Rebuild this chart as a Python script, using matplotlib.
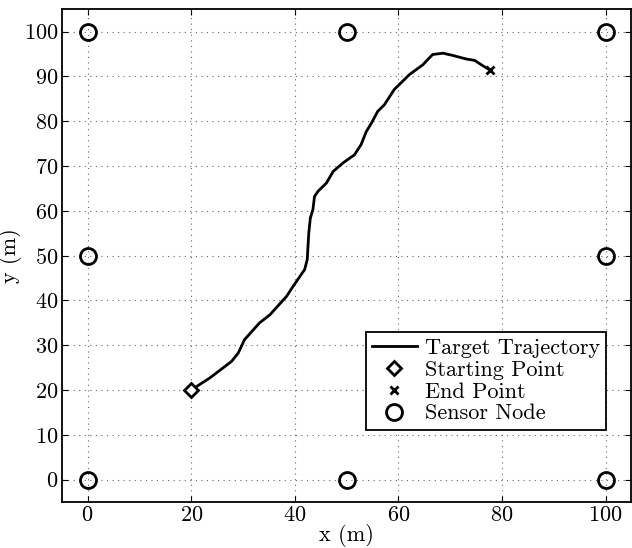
import matplotlib
matplotlib.use("Agg")
import matplotlib.pyplot as plt

plt.rcParams['font.family'] = 'serif'
plt.rcParams['font.serif'] = ['cmr10']
plt.rcParams['mathtext.fontset'] = 'cm'
plt.rcParams['axes.formatter.use_mathtext'] = True

traj_x = [20.0, 23.6, 27.8, 29.1, 30.3, 33.2, 35.2, 38.4, 39.7, 41.9, 42.4, 42.7, 43.0, 43.5,
          43.8, 44.5, 46.1, 47.4, 49.3, 51.5, 52.8, 53.8, 54.8, 56.0, 57.3, 59.2, 62.1,
          64.7, 66.6, 68.6, 70.5, 73.1, 74.7, 76.3, 77.6]
traj_y = [20.0, 22.7, 26.4, 28.3, 31.25, 35.0, 36.8, 40.9, 43.2, 46.9, 49.1, 55.1, 58.4, 60.3,
          63.2, 64.4, 66.2, 68.8, 70.7, 72.5, 74.8, 77.7, 79.6, 82.2, 83.7, 87.1, 90.4,
          92.6, 94.9, 95.2, 94.7, 93.9, 93.6, 92.4, 91.5]
start_pt = (20.0, 20.0)
end_pt = (77.6, 91.5)
sensor_x = [0, 50, 100, 0, 100, 0, 50, 100]
sensor_y = [100, 100, 100, 50, 50, 0, 0, 0]
xticks = [0, 20, 40, 60, 80, 100]
yticks = [0, 10, 20, 30, 40, 50, 60, 70, 80, 90, 100]

fs = 16

fig = plt.figure(figsize=(6.32, 5.48), dpi=100)
# axes spans pixels x 61.7..631.5, y 9.3..502
ax = fig.add_axes([61.7 / 632, (548 - 502) / 548, (631.5 - 61.7) / 632, (502 - 9.3) / 548])

ax.plot(traj_x, traj_y, color='black', lw=2, label='Target Trajectory', zorder=3)
ax.plot([start_pt[0]], [start_pt[1]], linestyle='none', marker='D', markersize=7,
        markerfacecolor='white', markeredgecolor='black', markeredgewidth=2,
        label='Starting Point', zorder=4)
ax.plot([end_pt[0]], [end_pt[1]], linestyle='none', marker='x', markersize=5.5,
        color='black', markeredgewidth=2, label='End Point', zorder=4)
ax.plot(sensor_x, sensor_y, linestyle='none', marker='o', markersize=11.5,
        markerfacecolor='none', markeredgecolor='black', markeredgewidth=2,
        label='Sensor Node', zorder=4)

ax.set_xlim(-5, 105)
ax.set_ylim(-5, 105)
ax.set_xticks(xticks)
ax.set_yticks(yticks)
ax.grid(True, linestyle=(0, (1, 4)), color='#666666', linewidth=0.8)
ax.tick_params(direction='in', top=True, right=True, length=4, width=0.8,
               labelsize=fs, pad=2.5)
for s in ax.spines.values():
    s.set_linewidth(1.3)

ax.set_xlabel('x (m)', fontsize=fs, labelpad=-0.5)
ax.set_ylabel('y (m)', fontsize=fs, labelpad=1)

leg = ax.legend(loc='lower right', bbox_to_anchor=(0.956, 0.146), fontsize=fs,
                fancybox=False, framealpha=1, edgecolor='black', handlelength=2.0,
                borderpad=0.3, labelspacing=0.1, handletextpad=0.36, borderaxespad=0)
leg.get_frame().set_linewidth(1.3)

fig.savefig('out.png', dpi=100)
